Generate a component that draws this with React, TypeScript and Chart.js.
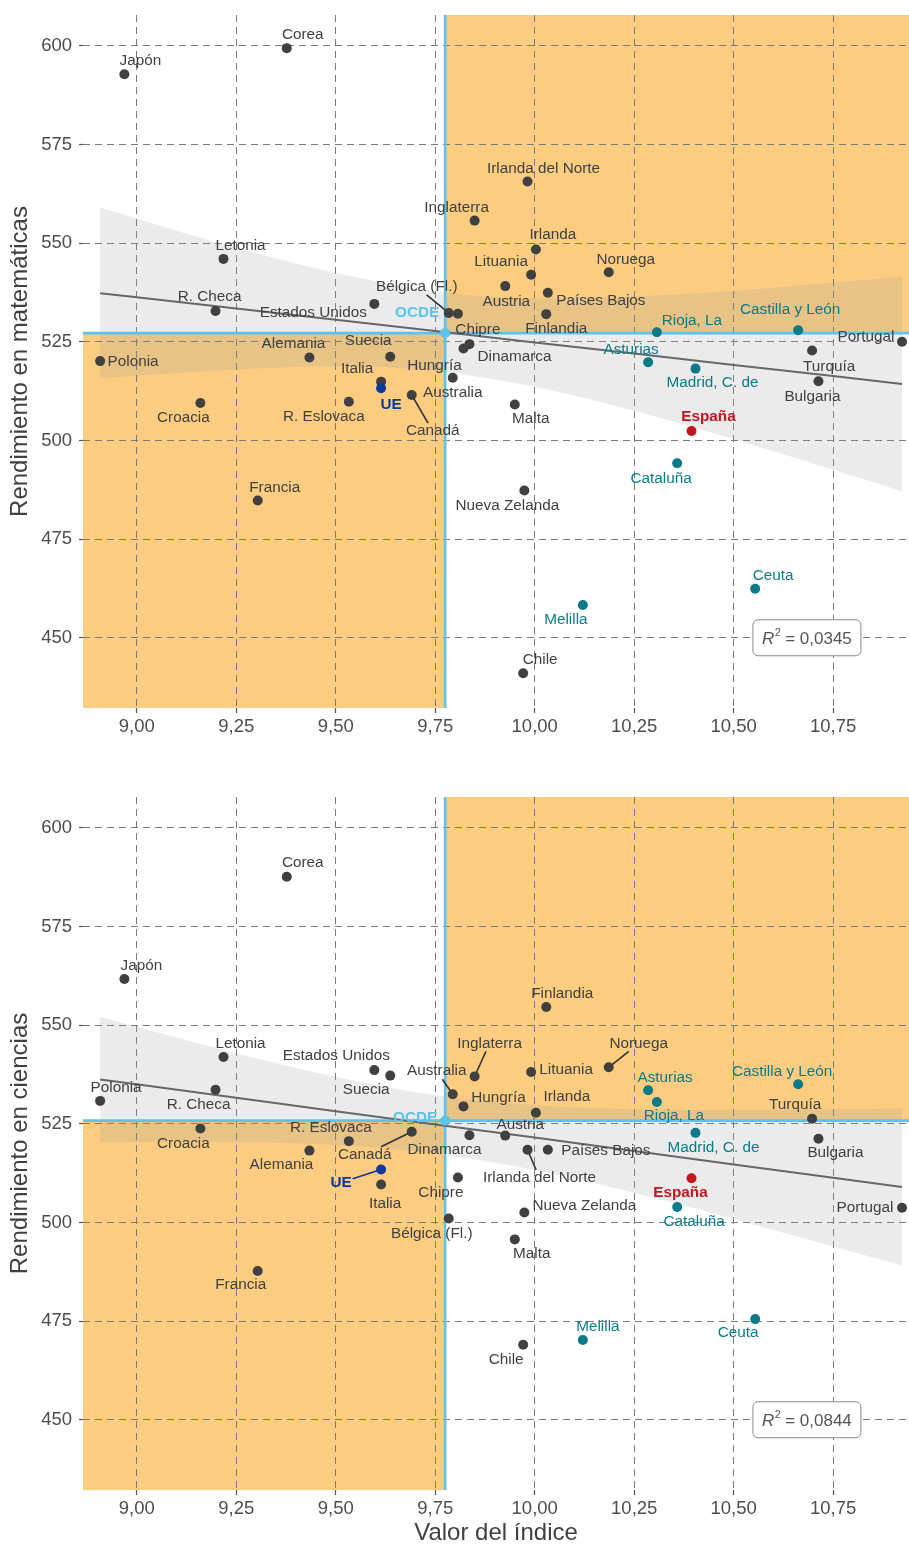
import React, { useEffect, useRef } from 'react';
import { Chart, registerables } from 'chart.js';

Chart.register(...registerables);

const FONT = '"Liberation Sans", Arial, Helvetica, sans-serif';

// ---------- data ----------
const countries = [
  'Japón', 'Corea', 'Irlanda del Norte', 'Inglaterra', 'Letonia', 'Irlanda', 'Noruega', 'Lituania',
  'Austria', 'Países Bajos', 'Bélgica (Fl.)', 'Chipre', 'Finlandia', 'R. Checa', 'Estados Unidos', 'Portugal',
  'Polonia', 'Alemania', 'Suecia', 'Dinamarca', 'Hungría', 'Turquía', 'Italia', 'Australia',
  'Bulgaria', 'Croacia', 'R. Eslovaca', 'Canadá', 'Malta', 'Francia', 'Nueva Zelanda', 'Chile',
];
const countryIndex = [
  8.969, 9.377, 9.982, 9.849, 9.218, 10.003, 10.186, 9.991,
  9.926, 10.033, 9.784, 9.807, 10.029, 9.198, 9.597, 10.923,
  8.908, 9.434, 9.637, 9.836, 9.821, 10.697, 9.614, 9.794,
  10.713, 9.160, 9.533, 9.691, 9.950, 9.304, 9.974, 9.971,
];
const countryMath = [
  592.8, 599.4, 565.6, 555.7, 546.0, 548.4, 542.6, 542.0,
  539.1, 537.4, 532.3, 532.1, 532.0, 532.8, 534.6, 525.0,
  520.1, 521.0, 521.2, 524.4, 523.3, 522.8, 514.9, 515.9,
  515.0, 509.5, 509.8, 511.5, 509.1, 484.8, 487.3, 441.0,
];
const countryScience = [
  561.7, 587.6, 518.4, 537.0, 541.9, 527.8, 539.3, 538.1,
  522.0, 518.4, 501.0, 511.4, 554.6, 533.6, 538.6, 503.7,
  530.8, 518.2, 537.2, 522.1, 529.4, 526.3, 509.6, 532.5,
  521.2, 523.8, 520.6, 523.0, 495.7, 487.7, 502.5, 469.0,
];

const regions = ['Castilla y León', 'Rioja, La', 'Asturias', 'Madrid, C. de', 'Cataluña', 'Ceuta', 'Melilla'];
const regionIndex = [10.662, 10.307, 10.285, 10.404, 10.358, 10.554, 10.121];
const regionMath = [527.9, 527.4, 519.8, 518.2, 494.2, 462.4, 458.3];
const regionScience = [535.0, 530.5, 533.5, 522.7, 503.9, 475.5, 470.2];

const spainIndex = 10.394;
const spainMath = 502.4;
const spainScience = 511.2;

const ueIndex = 9.614;
const ueMath = 513.2;
const ueScience = 513.4;

const ocdeIndex = 9.775;
const ocdeMath = 527.2;
const ocdeScience = 525.8;

// fitted line and confidence band
const fitX = [8.908, 9.0, 9.25, 9.5, 9.75, 10.0, 10.25, 10.5, 10.75, 10.923];
const mathFit = [537.3, 536.3, 533.4, 530.6, 527.7, 524.8, 522.0, 519.1, 516.3, 514.3];
const mathUpper = [559.0, 556.2, 548.8, 542.4, 537.8, 536.0, 536.5, 537.9, 540.0, 541.5];
const mathLower = [515.7, 516.4, 518.0, 518.8, 517.6, 513.6, 507.5, 500.3, 492.6, 487.1];
const sciFit = [536.2, 535.0, 531.6, 528.2, 524.8, 521.5, 518.1, 514.7, 511.3, 509.0];
const sciUpper = [552.1, 549.6, 542.9, 536.9, 532.2, 529.7, 528.7, 528.5, 528.7, 528.9];
const sciLower = [520.3, 520.4, 520.3, 519.6, 517.4, 513.3, 507.5, 500.9, 493.9, 489.1];

const mathR2 = '0,0345';
const sciR2 = '0,0844';

// tick values
const xTicks = [9.0, 9.25, 9.5, 9.75, 10.0, 10.25, 10.5, 10.75];
const yTicks = [450, 475, 500, 525, 550, 575, 600];

// ---------- layout (label offsets in px; third item = leader line) ----------
const mathLabelOffsets: Record<string, any[]> = {
  'Japón': [16, -13], 'Corea': [16, -13], 'Irlanda del Norte': [16, -13], 'Inglaterra': [-18, -13],
  'Letonia': [17, -13], 'Irlanda': [17, -15], 'Noruega': [17, -13], 'Lituania': [-30, -13],
  'Austria': [1, 16], 'Países Bajos': [53, 8], 'Bélgica (Fl.)': [-32, -26, true], 'Chipre': [20, 16],
  'Finlandia': [10, 15], 'R. Checa': [-6, -14], 'Estados Unidos': [-61, 9], 'Portugal': [-36, -5],
  'Polonia': [33, 1], 'Alemania': [-16, -14], 'Suecia': [-22, -16], 'Dinamarca': [45, 13],
  'Hungría': [-29, 17], 'Turquía': [17, 16], 'Italia': [-24, -13], 'Australia': [0, 15],
  'Bulgaria': [-6, 16], 'Croacia': [-17, 15], 'R. Eslovaca': [-25, 15], 'Canadá': [21, 36, true],
  'Malta': [16, 14], 'Francia': [17, -13], 'Nueva Zelanda': [-17, 15], 'Chile': [17, -13],
  'Castilla y León': [-8, -21], 'Rioja, La': [35, -12], 'Asturias': [-17, -13], 'Madrid, C. de': [17, 14],
  'Cataluña': [-16, 15], 'Ceuta': [18, -13], 'Melilla': [-17, 15],
  'España': [17, -14], 'UE': [10, 16], 'OCDE': [-28, -20],
};
const sciLabelOffsets: Record<string, any[]> = {
  'Corea': [16, -14], 'Japón': [17, -13], 'Finlandia': [16, -13], 'Letonia': [17, -13],
  'Estados Unidos': [-38, -14], 'Inglaterra': [15, -33, true], 'Noruega': [30, -24, true], 'Polonia': [16, -13],
  'Australia': [-16, -23, true], 'Lituania': [35, -2], 'Suecia': [-24, 14], 'Hungría': [35, -9],
  'Irlanda': [31, -16], 'R. Checa': [-17, 15], 'Turquía': [-17, -14], 'Austria': [15, -11],
  'R. Eslovaca': [-18, -13], 'Croacia': [-17, 15], 'Canadá': [-47, 23, true], 'Dinamarca': [-25, 15],
  'Países Bajos': [58, 1], 'Bulgaria': [17, 14], 'Alemania': [-28, 14], 'Irlanda del Norte': [12, 28, true],
  'Italia': [4, 19], 'Chipre': [-17, 15], 'Nueva Zelanda': [60, -7], 'Portugal': [-37, 0],
  'Bélgica (Fl.)': [-17, 15], 'Malta': [17, 14], 'Francia': [-17, 14], 'Chile': [-17, 15],
  'Castilla y León': [-16, -13], 'Rioja, La': [17, 14], 'Asturias': [17, -12], 'Madrid, C. de': [18, 15],
  'Cataluña': [17, 15], 'Ceuta': [-17, 14], 'Melilla': [15, -13],
  'España': [-11, 15], 'UE': [-40, 13, true], 'OCDE': [-30, -3],
};

const X_MIN = 8.865;
const X_MAX = 10.9405;
const Y_MIN = 432.2;
const Y_MAX = 607.8;
const R2_X = 10.684;
const R2_Y = 450;

const COL = {
  country: '#404040',
  region: '#0b7a87',
  spain: '#c0161e',
  ue: '#0b3a9b',
  ocde: '#5bc3ec',
  orange: '#fccd81',
  grid: '#7a7a7a',
  fit: '#676767',
  band: 'rgba(153,153,153,0.2)',
  tick: '#4d4d4d',
  title: '#404040',
};

function buildChart(canvas: HTMLCanvasElement, spec: any) {
  const marks: any[] = [];
  countries.forEach((n, i) => marks.push({ name: n, x: countryIndex[i], y: spec.country[i], color: COL.country, bold: false }));
  regions.forEach((n, i) => marks.push({ name: n, x: regionIndex[i], y: spec.region[i], color: COL.region, bold: false }));
  marks.push({ name: 'España', x: spainIndex, y: spec.spain, color: COL.spain, bold: true });
  marks.push({ name: 'UE', x: ueIndex, y: spec.ue, color: COL.ue, bold: true });
  marks.push({ name: 'OCDE', x: ocdeIndex, y: spec.ocde, color: COL.ocde, bold: true });

  const quadrants = {
    id: 'quadrants',
    beforeDraw(chart: any) {
      const { ctx, chartArea: a, scales } = chart;
      const px = scales.x.getPixelForValue(ocdeIndex);
      const py = scales.y.getPixelForValue(spec.ocde);
      ctx.save();
      ctx.fillStyle = COL.orange;
      ctx.fillRect(px, a.top, a.right - px, py - a.top);
      ctx.fillRect(a.left, py, px - a.left, a.bottom - py);
      ctx.restore();
    },
  };

  const labels = {
    id: 'labels',
    afterDatasetsDraw(chart: any) {
      const { ctx, scales } = chart;
      ctx.save();
      ctx.textAlign = 'center';
      ctx.textBaseline = 'middle';
      for (const m of marks) {
        const off = spec.offsets[m.name];
        if (!off) continue;
        const px = scales.x.getPixelForValue(m.x);
        const py = scales.y.getPixelForValue(m.y);
        const lx = px + off[0];
        const ly = py + off[1];
        ctx.font = `${m.bold ? 'bold ' : ''}15.3px ${FONT}`;
        const w = ctx.measureText(m.name).width;
        if (off[2]) {
          const dx = px - lx;
          const dy = py - ly;
          const hw = w / 2 + 1;
          const hh = 8;
          const tx = Math.abs(dx) > 0.01 ? hw / Math.abs(dx) : Infinity;
          const ty = Math.abs(dy) > 0.01 ? hh / Math.abs(dy) : Infinity;
          const t = Math.min(tx, ty);
          const len = Math.hypot(dx, dy);
          ctx.strokeStyle = m.name === 'UE' ? COL.ue : '#333333';
          ctx.lineWidth = 1.6;
          ctx.beginPath();
          ctx.moveTo(lx + dx * t, ly + dy * t);
          ctx.lineTo(px - (dx / len) * 4, py - (dy / len) * 4);
          ctx.stroke();
        }
        ctx.fillStyle = m.color;
        ctx.fillText(m.name, lx, ly);
      }
      // R^2 box
      const bx = scales.x.getPixelForValue(R2_X);
      const by = scales.y.getPixelForValue(R2_Y);
      const bw = 108;
      const bh = 36;
      ctx.beginPath();
      ctx.roundRect(bx - bw / 2, by - bh / 2, bw, bh, 5);
      ctx.fillStyle = '#ffffff';
      ctx.fill();
      ctx.strokeStyle = '#8a8a8a';
      ctx.lineWidth = 1;
      ctx.stroke();
      const fR = `italic 17px ${FONT}`;
      const fS = `11px ${FONT}`;
      const fT = `17px ${FONT}`;
      const rest = ' = ' + spec.r2;
      ctx.font = fR; const wR = ctx.measureText('R').width;
      ctx.font = fS; const wS = ctx.measureText('2').width;
      ctx.font = fT; const wT = ctx.measureText(rest).width;
      let sx = bx - (wR + wS + wT) / 2;
      ctx.fillStyle = '#555555';
      ctx.textAlign = 'left';
      ctx.textBaseline = 'alphabetic';
      const base = by + 6;
      ctx.font = fR; ctx.fillText('R', sx, base); sx += wR + 0.5;
      ctx.font = fS; ctx.fillText('2', sx, base - 8); sx += wS - 0.5;
      ctx.font = fT; ctx.fillText(rest, sx, base);
      ctx.restore();
    },
  };

  const pts = (xs: number[], ys: number[]) => xs.map((x, i) => ({ x, y: ys[i] }));

  const datasets: any[] = [
    {
      type: 'line', data: pts(fitX, spec.upper), borderWidth: 0, borderColor: 'rgba(0,0,0,0)',
      backgroundColor: COL.band, fill: '+1', pointRadius: 0, cubicInterpolationMode: 'monotone', order: 10,
    },
    {
      type: 'line', data: pts(fitX, spec.lower), borderWidth: 0, borderColor: 'rgba(0,0,0,0)',
      fill: false, pointRadius: 0, cubicInterpolationMode: 'monotone', order: 11,
    },
    {
      type: 'line', data: [{ x: ocdeIndex, y: Y_MIN }, { x: ocdeIndex, y: Y_MAX }],
      borderColor: COL.ocde, borderWidth: 2.6, pointRadius: 0, fill: false, order: 8,
    },
    {
      type: 'line', data: [{ x: X_MIN, y: spec.ocde }, { x: X_MAX, y: spec.ocde }],
      borderColor: COL.ocde, borderWidth: 2.6, pointRadius: 0, fill: false, order: 8,
    },
    {
      type: 'line', data: pts(fitX, spec.fit), borderColor: COL.fit, borderWidth: 2,
      pointRadius: 0, fill: false, order: 6,
    },
    {
      type: 'scatter', data: pts(countryIndex, spec.country), pointRadius: 5, pointBorderWidth: 0,
      backgroundColor: COL.country, borderColor: COL.country, order: 4,
    },
    {
      type: 'scatter', data: pts(regionIndex, spec.region), pointRadius: 5, pointBorderWidth: 0,
      backgroundColor: COL.region, borderColor: COL.region, order: 3,
    },
    {
      type: 'scatter', data: [{ x: spainIndex, y: spec.spain }], pointRadius: 5, pointBorderWidth: 0,
      backgroundColor: COL.spain, borderColor: COL.spain, order: 2,
    },
    {
      type: 'scatter', data: [{ x: ueIndex, y: spec.ue }], pointRadius: 5, pointBorderWidth: 0,
      backgroundColor: COL.ue, borderColor: COL.ue, order: 2,
    },
    {
      type: 'scatter', data: [{ x: ocdeIndex, y: spec.ocde }], pointRadius: 5, pointBorderWidth: 0,
      backgroundColor: COL.ocde, borderColor: COL.ocde, order: 1,
    },
  ];

  const gridCommon = {
    color: COL.grid,
    lineWidth: 1,
    tickColor: '#555555',
    tickWidth: 1.2,
    tickBorderDash: [],
  };

  return new Chart(canvas, {
    type: 'scatter',
    data: { datasets },
    plugins: [quadrants, labels],
    options: {
      responsive: false,
      animation: false,
      events: [],
      layout: { autoPadding: false, padding: { top: spec.padTop, left: 0, right: 0, bottom: 0 } },
      plugins: { legend: { display: false }, tooltip: { enabled: false } },
      scales: {
        x: {
          type: 'linear',
          min: X_MIN,
          max: X_MAX,
          afterBuildTicks: (s: any) => { s.ticks = xTicks.map((v) => ({ value: v })); },
          afterFit: (s: any) => { s.height = spec.xAxisHeight; s.paddingLeft = 0; s.paddingRight = 0; },
          ticks: {
            autoSkip: false,
            maxRotation: 0,
            padding: 3,
            color: COL.tick,
            font: { family: FONT, size: 18.5 },
            callback: (v: any) => Number(v).toFixed(2).replace('.', ','),
          },
          grid: { ...gridCommon, tickLength: 5 },
          border: { display: false, dash: [7, 5] },
          title: {
            display: spec.showXTitle,
            text: 'Valor del índice',
            color: COL.title,
            font: { family: FONT, size: 24 },
            padding: { top: 0, bottom: -2 },
          },
        },
        y: {
          type: 'linear',
          min: Y_MIN,
          max: Y_MAX,
          afterBuildTicks: (s: any) => { s.ticks = yTicks.map((v) => ({ value: v })); },
          afterFit: (s: any) => { s.width = 83; s.paddingTop = 0; s.paddingBottom = 0; },
          ticks: {
            autoSkip: false,
            padding: 7,
            color: COL.tick,
            font: { family: FONT, size: 18.5 },
            callback: (v: any) => String(Math.round(Number(v))),
          },
          grid: { ...gridCommon, tickLength: 4 },
          border: { display: false, dash: [7, 5] },
          title: {
            display: true,
            text: spec.title,
            color: COL.title,
            font: { family: FONT, size: 24 },
            padding: { top: 6, bottom: 0 },
          },
        },
      },
    } as any,
  });
}

export default function App() {
  const topRef = useRef<HTMLCanvasElement>(null);
  const botRef = useRef<HTMLCanvasElement>(null);

  useEffect(() => {
    const c1 = buildChart(topRef.current as HTMLCanvasElement, {
      country: countryMath, region: regionMath, spain: spainMath, ue: ueMath, ocde: ocdeMath,
      fit: mathFit, upper: mathUpper, lower: mathLower, r2: mathR2,
      title: 'Rendimiento en matemáticas', showXTitle: false, offsets: mathLabelOffsets,
      padTop: 15, xAxisHeight: 62,
    });
    const c2 = buildChart(botRef.current as HTMLCanvasElement, {
      country: countryScience, region: regionScience, spain: spainScience, ue: ueScience, ocde: ocdeScience,
      fit: sciFit, upper: sciUpper, lower: sciLower, r2: sciR2,
      title: 'Rendimiento en ciencias', showXTitle: true, offsets: sciLabelOffsets,
      padTop: 27, xAxisHeight: 56,
    });
    return () => { c1.destroy(); c2.destroy(); };
  }, []);

  return (
    <div style={{ position: 'absolute', left: 0, top: 0, width: 909, height: 1546, background: '#ffffff' }}>
      <canvas ref={topRef} width={909} height={770}
        style={{ position: 'absolute', left: 0, top: 0, width: 909, height: 770 }} />
      <canvas ref={botRef} width={909} height={776}
        style={{ position: 'absolute', left: 0, top: 770, width: 909, height: 776 }} />
    </div>
  );
}
